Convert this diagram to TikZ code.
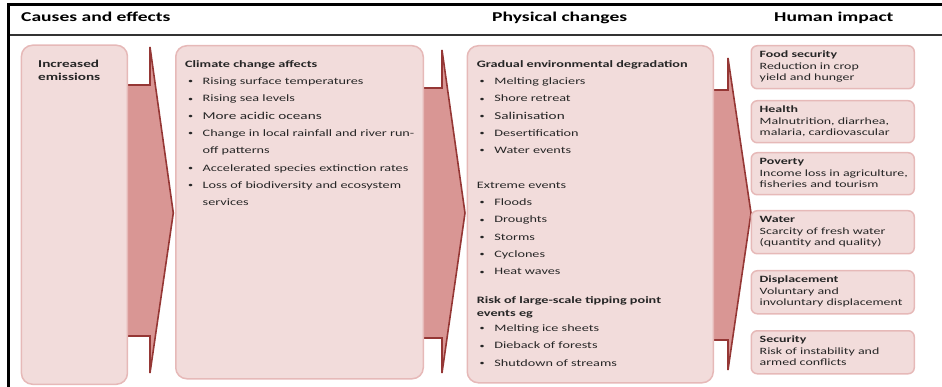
\documentclass[tikz,border=0pt]{standalone}
\usepackage{fontspec}
\setmainfont{Carlito}[FakeStretch=1.45]
\usepackage{tikz}
\usetikzlibrary{positioning,calc}
\definecolor{boxfill}{HTML}{F2DCDB}
\definecolor{boxline}{HTML}{E6B9B8}
\definecolor{arrowfill}{HTML}{D99694}
\definecolor{arrowline}{HTML}{953735}
\definecolor{rulegray}{HTML}{333333}
\newcommand{\itm}[1]{\makebox[17.5pt][l]{\hspace{2.8pt}\raisebox{0.8pt}{\fontsize{7}{7}\selectfont\textbullet}}#1}
\newcommand{\listfont}{\fontsize{9.8}{17.3}\selectfont}
\newcommand{\impactfont}{\fontsize{9.6}{11.3}\selectfont}

\tikzset{
  stagebox/.style={draw=boxline, fill=boxfill, line width=1.5pt, rounded corners=11pt, inner sep=0pt, anchor=north west},
  impactbox/.style={stagebox, rounded corners=6pt, minimum width=163pt},
  boxtext/.style={anchor=north west, inner sep=0pt, align=left, text=black!85},
  headtext/.style={anchor=base west, inner sep=0pt, font=\fontsize{13.5}{16}\selectfont\bfseries},
  arrowedge/.style={arrowline, line width=1.6pt},
}

\begin{document}
\begin{tikzpicture}[x=1pt,y=-1pt]
\useasboundingbox (0,0) rectangle (942,387);
% frame and header
\draw[line width=3pt] (7.2,4.5) -- (942,4.5);
\draw[line width=3pt] (8.7,3) -- (8.7,387);
\draw[rulegray, line width=2.5pt] (10,35) -- (942,35);
\node[headtext] (hcause) at (21,22) {Causes and effects};
\node[headtext] (hphys) at (492,22) {Physical changes};
\node[headtext] (himpact) at (774,22) {Human impact};

% block arrows
\fill[arrowfill] (126.5,85) -- (150,85) -- (150,47) -- (173.3,213) -- (150,373) -- (150,336) -- (126.5,336) -- cycle;
\draw[arrowedge] (126.5,85) -- (150,85) -- (150,47) -- (173.3,213) -- (150,373) -- (150,336) -- (126.5,336);
\fill[arrowfill] (422.5,88) -- (442,88) -- (442,50) -- (465,213) -- (442,373) -- (442,338) -- (422.5,338) -- cycle;
\draw[arrowedge] (422.5,88) -- (442,88) -- (442,50) -- (465,213) -- (442,373) -- (442,338) -- (422.5,338);
\fill[arrowfill] (712.5,90) -- (728,90) -- (728,58) -- (751,213) -- (728,370) -- (728,340) -- (712.5,340) -- cycle;
\draw[arrowedge] (712.5,90) -- (728,90) -- (728,58) -- (751,213) -- (728,370) -- (728,340) -- (712.5,340);

% causes
\node[stagebox, minimum width=106pt, minimum height=339pt] (emis) at (20.7,44.5) {};
\node[boxtext, font=\fontsize{10.5}{12.7}\selectfont\bfseries] (emistxt) at (38,58.6) {\strut Increased\\emissions};

% climate change effects
\node[stagebox, minimum width=247.5pt, minimum height=333pt] (effects) at (175,45) {};
\node[boxtext, font=\listfont] (effectstxt) at (185,54.9) {\strut\textbf{Climate change affects}\\
  \itm{Rising surface temperatures}\\
  \itm{Rising sea levels}\\
  \itm{{\fontsize{10.5}{17.3}\selectfont More acidic oceans}}\\
  \itm{Change in local rainfall and river run-}\\
  \hspace*{17.5pt}off patterns\\
  \itm{Accelerated species extinction rates}\\
  \itm{Loss of biodiversity and ecosystem}\\
  \hspace*{17.5pt}services};

% physical changes
\node[stagebox, minimum width=246pt, minimum height=337pt] (phys) at (466.5,45) {};
\node[boxtext, font=\listfont] (phystxt) at (476.7,54.9) {\strut\textbf{Gradual environmental degradation}\\
  \itm{Melting glaciers}\\
  \itm{Shore retreat}\\
  \itm{{\fontsize{10.5}{17.3}\selectfont Salinisation}}\\
  \itm{Desertification}\\
  \itm{Water events}\\[17.3pt]
  Extreme events\\
  \itm{Floods}\\
  \itm{Droughts}\\
  \itm{Storms}\\
  \itm{Cyclones}\\
  \itm{Heat waves}\\[11.1pt]
  \textbf{Risk of large-scale tipping point}\\[-4.3pt]
  \textbf{events eg}\\[-2pt]
  \itm{Melting ice sheets}\\
  \itm{Dieback of forests}\\
  \itm{Shutdown of streams}};

% human impact
\node[impactbox, minimum height=43pt] (food) at (750.5,45) {};
\node[boxtext, font=\impactfont] (foodtxt) at ($(food.north west)+(9,4.6)$) {\strut\textbf{Food security}\\Reduction in crop\\yield and hunger};
\node[impactbox, minimum height=42pt] (health) at (750.5,100) {};
\node[boxtext, font=\impactfont] (healthtxt) at ($(health.north west)+(9,4.6)$) {\strut\textbf{Health}\\Malnutrition, diarrhea,\\malaria, cardiovascular};
\node[impactbox, minimum height=42pt] (poverty) at (750.5,152) {};
\node[boxtext, font=\impactfont] (povertytxt) at ($(poverty.north west)+(9,4.6)$) {\strut\textbf{Poverty}\\Income loss in agriculture,\\fisheries and tourism};
\node[impactbox, minimum height=43pt] (water) at (750.5,210) {};
\node[boxtext, font=\impactfont] (watertxt) at ($(water.north west)+(9,4.6)$) {\strut\textbf{Water}\\Scarcity of fresh water\\(quantity and quality)};
\node[impactbox, minimum height=43pt] (displ) at (750.5,270) {};
\node[boxtext, font=\impactfont] (displtxt) at ($(displ.north west)+(9,4.6)$) {\strut\textbf{Displacement}\\Voluntary and\\involuntary displacement};
\node[impactbox, minimum height=43pt] (secur) at (750.5,330) {};
\node[boxtext, font=\impactfont] (securtxt) at ($(secur.north west)+(9,4.6)$) {\strut\textbf{Security}\\Risk of instability and\\armed conflicts};
\end{tikzpicture}
\end{document}
